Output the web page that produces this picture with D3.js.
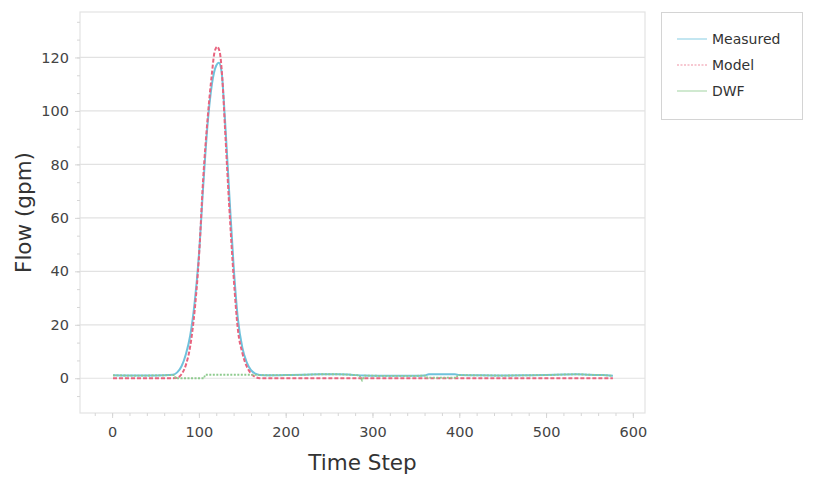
<!DOCTYPE html>
<html lang="en">
<head>
<meta charset="utf-8">
<title>Flow chart</title>
<script src="https://cdn.jsdelivr.net/npm/d3@7"></script>
<style>
  body { margin:0; background:#fff; }
  text { font-family: "DejaVu Sans", sans-serif; }
</style>
</head>
<body>
<div id="chart"></div>
<script>
// values
var seriesNames = ["Measured", "Model", "DWF"]

var measuredStep = [1, 20, 40, 60, 70, 75, 80, 85, 90, 95, 100, 105, 110, 115, 120, 123, 126, 130, 135, 140, 145, 150, 155, 160, 165, 170, 180, 200, 220, 240, 260, 275, 290, 310, 330, 350, 360, 365, 395, 400, 420, 450, 480, 500, 520, 535, 550, 565, 577]
var measuredFlow = [1.1, 1.0, 1.0, 1.1, 1.3, 2.2, 4.5, 9, 16, 28, 46, 72, 95, 110, 117, 118, 115, 97, 69, 42, 22, 11.5, 6, 3, 1.7, 1.2, 1.1, 1.2, 1.3, 1.5, 1.5, 1.3, 1.0, 0.9, 0.9, 0.9, 1.0, 1.5, 1.5, 1.2, 1.1, 1.0, 1.1, 1.2, 1.4, 1.5, 1.3, 1.2, 0.9]

var modelStep = [1, 70, 75, 80, 85, 90, 95, 100, 105, 110, 115, 118, 121, 124, 127, 130, 135, 140, 145, 150, 155, 160, 165, 170, 577]
var modelFlow = [0, 0, 0.2, 1.5, 5, 12, 25, 45, 75, 97, 114, 122, 124, 122, 112, 94, 64, 38, 18, 9.5, 4.5, 1.8, 0.5, 0, 0]

var dwfStep = [1, 20, 40, 60, 72, 73, 106, 107, 130, 160, 170, 180, 200, 220, 240, 260, 275, 285, 288, 291, 310, 330, 350, 362, 363, 397, 398, 420, 450, 480, 500, 520, 535, 550, 565, 577]
var dwfFlow = [1.1, 1.0, 1.0, 1.1, 1.2, 0, 0, 1.3, 1.3, 1.3, 1.2, 1.1, 1.2, 1.3, 1.5, 1.5, 1.3, 1.1, -0.8, 1.0, 0.9, 0.9, 0.9, 1.0, 0.2, 0.2, 1.2, 1.1, 1.0, 1.1, 1.2, 1.4, 1.5, 1.3, 1.2, 0.9]

var xTicks = [0, 100, 200, 300, 400, 500, 600]
var yTicks = [0, 20, 40, 60, 80, 100, 120]

var colors = { Measured: "#6fc2dc", Model: "#e8647f", DWF: "#8fcb8f" }

var width = 816, height = 480
var plot = { left: 80, right: 645, top: 12, bottom: 413 }

var svg = d3.select("#chart").append("svg").attr("width", width).attr("height", height)
svg.append("rect").attr("width", width).attr("height", height).attr("fill", "#fff")

var x = d3.scaleLinear().domain([-37, 614]).range([plot.left, plot.right])
var y = d3.scaleLinear().domain([-13, 137]).range([plot.bottom, plot.top])

// gridlines
svg.append("g").selectAll("line")
  .data(yTicks)
  .enter()
  .append("line")
  .attr("x1", plot.left).attr("x2", plot.right)
  .attr("y1", function(d){ return y(d) }).attr("y2", function(d){ return y(d) })
  .attr("stroke", "#e2e2e2").attr("stroke-width", 1.2)

// plot border
svg.append("rect")
  .attr("x", plot.left).attr("y", plot.top)
  .attr("width", plot.right - plot.left).attr("height", plot.bottom - plot.top)
  .attr("fill", "none").attr("stroke", "#e3e3e3").attr("stroke-width", 1.2)

// axes
var yMinor = d3.range(-40, 140, 20 / 3).filter(function(d){ return d > -13 && d < 137 })
var xMinor = d3.range(-20, 620, 20).filter(function(d){ return d > -37 && d < 614 })

var yAxis = svg.append("g").attr("transform", "translate(" + plot.left + ",0)")
  .call(d3.axisLeft(y).tickValues(yTicks).tickSize(5).tickPadding(6))
yAxis.append("g").call(d3.axisLeft(y).tickValues(yMinor).tickSize(3).tickFormat(""))

var xAxis = svg.append("g").attr("transform", "translate(0," + plot.bottom + ")")
  .call(d3.axisBottom(x).tickValues(xTicks).tickSize(5).tickPadding(9))
xAxis.append("g").call(d3.axisBottom(x).tickValues(xMinor).tickSize(3).tickFormat(""))

svg.selectAll(".domain").remove()
svg.selectAll(".tick line").attr("stroke", "#d6d6d6")
svg.selectAll(".tick text").attr("fill", "#444").style("font-size", "14.5px")
  .style("font-family", "'DejaVu Sans', sans-serif")

// lines
var line = d3.line()
  .x(function(d){ return x(d[0]) })
  .y(function(d){ return y(d[1]) })
  .curve(d3.curveMonotoneX)

var lineStep = d3.line()
  .x(function(d){ return x(d[0]) })
  .y(function(d){ return y(d[1]) })

svg.append("path")
  .datum(d3.zip(measuredStep, measuredFlow))
  .attr("d", line)
  .attr("fill", "none").attr("stroke", colors.Measured).attr("stroke-width", 2)

svg.append("path")
  .datum(d3.zip(modelStep, modelFlow))
  .attr("d", line)
  .attr("fill", "none").attr("stroke", colors.Model).attr("stroke-width", 2)
  .attr("stroke-dasharray", "4,2")

svg.append("path")
  .datum(d3.zip(dwfStep, dwfFlow))
  .attr("d", lineStep)
  .attr("fill", "none").attr("stroke", colors.DWF).attr("stroke-width", 1.8)
  .attr("stroke-dasharray", "2,1.5")

// axis titles
svg.append("text")
  .attr("x", (x(-37) + x(614)) / 2).attr("y", 470)
  .attr("text-anchor", "middle").attr("fill", "#333")
  .style("font-size", "21.5px").text("Time Step")

svg.append("text")
  .attr("transform", "translate(31," + ((plot.top + plot.bottom) / 2) + ") rotate(-90)")
  .attr("text-anchor", "middle").attr("fill", "#333")
  .style("font-size", "21.5px").text("Flow (gpm)")

// legend
var legend = svg.append("g")
legend.append("rect")
  .attr("x", 661.5).attr("y", 12.5).attr("width", 141).attr("height", 107)
  .attr("fill", "#fff").attr("stroke", "#d4d4d4")

var dashes = { Measured: null, Model: "2,1.5", DWF: null }
var items = legend.selectAll(".item")
  .data(seriesNames)
  .enter()
  .append("g")
  .attr("transform", function(d, i){ return "translate(677," + (39 + i * 26) + ")" })

items.append("line")
  .attr("x1", 0).attr("x2", 30)
  .attr("stroke", function(d){ return colors[d] })
  .attr("stroke-opacity", 0.7)
  .attr("stroke-width", 1.2)
  .attr("stroke-dasharray", function(d){ return dashes[d] })

items.append("text")
  .attr("x", 35).attr("y", 5)
  .attr("fill", "#333").style("font-size", "14px")
  .text(function(d){ return d })
</script>
</body>
</html>
